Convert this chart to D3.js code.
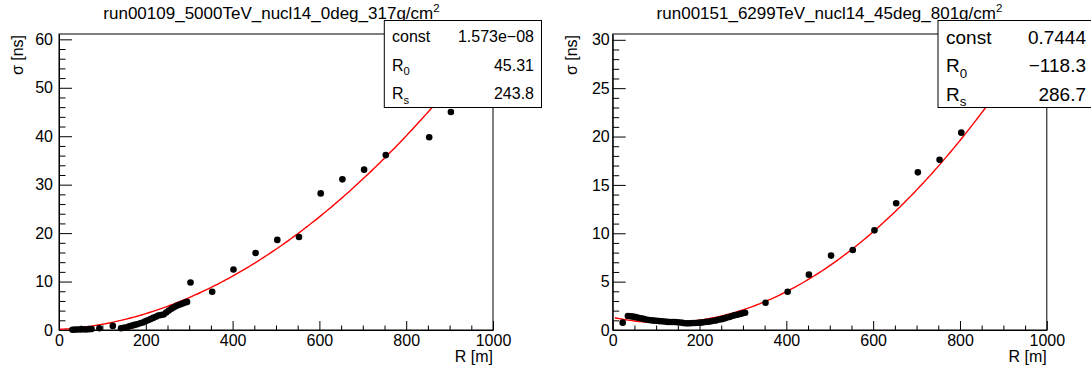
<!DOCTYPE html>
<html><head><meta charset="utf-8">
<script src="https://cdn.jsdelivr.net/npm/d3@7"></script>
<style>
body{margin:0;background:#fff}
svg{display:block}
text{font-family:"Liberation Sans",Arial,Helvetica,sans-serif;fill:#000}
</style>
</head><body>
<svg id="c" width="1091" height="377"></svg>
<script>
// ---------------- data ----------------
const titles = ["run00109_5000TeV_nucl14_0deg_317g/cm", "run00151_6299TeV_nucl14_45deg_801g/cm"];
const titleSup = "2";
const xLabel = "R [m]";
const yLabel = "\u03c3 [ns]";
const xMajorTicks = [0, 200, 400, 600, 800, 1000];
const leftYTicks = [0, 10, 20, 30, 40, 50, 60];
const rightYTicks = [0, 5, 10, 15, 20, 25, 30];

const leftR = [31, 37, 43, 50, 56, 62, 69, 75, 93, 124,
  143, 149, 156, 162, 168, 174, 180, 187, 193, 199, 205, 211, 217, 223, 229, 235, 241, 247,
  253, 259, 265, 271, 277, 283, 289, 295,
  303, 353, 402, 453, 503, 553, 603, 653, 703, 753, 853, 903];
const leftSigma = [0.05, 0.08, 0.1, 0.12, 0.15, 0.1, 0.18, 0.2, 0.35, 0.85,
  0.35, 0.45, 0.55, 0.75, 0.9, 1.05, 1.2, 1.4, 1.55, 1.8, 2.0, 2.25, 2.5, 2.75, 3.0, 3.1, 3.2, 3.6,
  4.0, 4.4, 4.7, 5.0, 5.2, 5.4, 5.6, 5.8,
  9.8, 7.9, 12.5, 15.9, 18.6, 19.2, 28.2, 31.1, 33.1, 36.1, 39.8, 45.0];

const rightR = [23, 35, 41, 47, 53, 59, 65, 71, 77, 83, 89, 95, 101, 107, 113, 119, 125, 131, 137,
  143, 149, 155, 161, 167, 173, 179, 185, 191, 197, 203, 209, 215, 221, 227, 233, 239, 245,
  251, 257, 263, 269, 275, 281, 287, 293, 299, 305,
  352, 403, 452, 503, 553, 603, 653, 703, 753, 803];
const rightSigma = [0.76, 1.45, 1.42, 1.38, 1.33, 1.27, 1.21, 1.15, 1.08, 1.03, 1.0, 0.97, 0.95, 0.92, 0.9, 0.88, 0.84, 0.83, 0.83,
  0.82, 0.8, 0.77, 0.74, 0.7, 0.69, 0.7, 0.72, 0.73, 0.75, 0.76, 0.8, 0.84, 0.86, 0.9, 0.95, 1.0, 1.08,
  1.12, 1.2, 1.28, 1.35, 1.45, 1.52, 1.58, 1.65, 1.72, 1.79,
  2.82, 3.96, 5.72, 7.69, 8.27, 10.3, 13.1, 16.3, 17.6, 20.4];

const statNames = ["const", "R", "R"];
const statSubs = ["", "0", "s"];
const leftStats = ["1.573e\u221208", "45.31", "243.8"];
const rightStats = ["0.7444", "\u2212118.3", "286.7"];
const leftPar = [1.573e-08, 45.31, 243.8];
const rightPar = [0.7444, -118.3, 286.7];
const fitRangeLeft = [0, 1000];
const fitRangeRight = [5, 1000];

// fit model: sigma = const + ((R + R0)/Rs)^2 / c, c = 0.3 m/ns
function fitModel(p, R) { return p[0] + Math.pow((R + p[1]) / p[2], 2) / 0.3; }

// ---------------- drawing ----------------
const svg = d3.select("#c");
const FONT = '"Liberation Sans",Arial,Helvetica,sans-serif';

const panels = [
  { title: titles[0], R: leftR, S: leftSigma, yTicks: leftYTicks, yMax: 61.1, yMinorStep: 2,
    par: leftPar, stats: leftStats, fitRange: fitRangeLeft,
    fx0: 59, fx1: 493, fy0: 34, fy1: 330, titleX: 271.5, yLabX: 23, yTickPad: 6,
    box: { x: 384.3, y: 20.5, w: 157.2, h: 87, fs: 16, lx: 392, vx: 534, rows: [42, 70.5, 99] } },
  { title: titles[1], R: rightR, S: rightSigma, yTicks: rightYTicks, yMax: 30.6, yMinorStep: 1,
    par: rightPar, stats: rightStats, fitRange: fitRangeRight,
    fx0: 612.7, fx1: 1046.8, fy0: 34, fy1: 330, titleX: 829.5, yLabX: 577, yTickPad: 3,
    box: { x: 938, y: 20.5, w: 160, h: 87, fs: 19, lx: 946, vx: 1086, rows: [43.5, 72, 100.5] } }
];

panels.forEach((P, i) => {
  const g = svg.append("g");
  const x = d3.scaleLinear().domain([0, 1000]).range([P.fx0, P.fx1]);
  const y = d3.scaleLinear().domain([0, P.yMax]).range([P.fy1, P.fy0]);

  // frame
  g.append("rect").attr("x", P.fx0).attr("y", P.fy0)
    .attr("width", P.fx1 - P.fx0).attr("height", P.fy1 - P.fy0)
    .attr("fill", "none").attr("stroke", "#000").attr("stroke-width", 1);

  // clip
  const clipId = "clip" + i;
  svg.append("clipPath").attr("id", clipId).append("rect")
    .attr("x", P.fx0).attr("y", P.fy0).attr("width", P.fx1 - P.fx0).attr("height", P.fy1 - P.fy0);

  // fit curve
  const n = 200;
  const pts = d3.range(n + 1).map(k => {
    const R = P.fitRange[0] + (P.fitRange[1] - P.fitRange[0]) * k / n;
    return [R, fitModel(P.par, R)];
  });
  g.append("path").datum(pts)
    .attr("clip-path", `url(#${clipId})`)
    .attr("fill", "none").attr("stroke", "#ff0000").attr("stroke-width", 1.4)
    .attr("d", d3.line().x(d => x(d[0])).y(d => y(d[1])));

  // points
  g.append("g").selectAll("circle").data(P.R.map((r, k) => [r, P.S[k]])).join("circle")
    .attr("cx", d => x(d[0])).attr("cy", d => y(d[1])).attr("r", 3.3).attr("fill", "#000");

  // x axis
  const xMinor = d3.range(0, 1001, 50).filter(v => v % 200 !== 0);
  const xa = g.append("g").attr("transform", `translate(0,${P.fy1})`)
    .call(d3.axisBottom(x).tickValues(xMajorTicks).tickSizeInner(-9).tickSizeOuter(0).tickPadding(5).tickFormat(d3.format("d")));
  xa.select(".domain").attr("stroke", "#000");
  xa.selectAll("text").attr("font-size", 16).attr("font-family", FONT);
  g.append("g").attr("transform", `translate(0,${P.fy1})`)
    .call(d3.axisBottom(x).tickValues(xMinor).tickSizeInner(-4.5).tickSizeOuter(0).tickFormat(""))
    .select(".domain").remove();

  // y axis
  const yMinor = d3.range(0, P.yMax, P.yMinorStep).filter(v => !P.yTicks.includes(v));
  const ya = g.append("g").attr("transform", `translate(${P.fx0},0)`)
    .call(d3.axisLeft(y).tickValues(P.yTicks).tickSizeInner(-13).tickSizeOuter(0).tickPadding(P.yTickPad).tickFormat(d3.format("d")));
  ya.select(".domain").attr("stroke", "#000");
  ya.selectAll("text").attr("font-size", 16).attr("font-family", FONT);
  g.append("g").attr("transform", `translate(${P.fx0},0)`)
    .call(d3.axisLeft(y).tickValues(yMinor).tickSizeInner(-6.5).tickSizeOuter(0).tickFormat(""))
    .select(".domain").remove();

  // axis titles
  g.append("text").attr("x", P.fx1).attr("y", 362).attr("text-anchor", "end")
    .attr("font-size", 16).text(xLabel);
  g.append("text").attr("transform", `translate(${P.yLabX},${P.fy0 + 1}) rotate(-90)`)
    .attr("text-anchor", "end").attr("font-size", 16).text(yLabel);

  // title
  const t = g.append("text").attr("x", P.titleX).attr("y", 19).attr("text-anchor", "middle")
    .attr("font-size", 17);
  t.append("tspan").text(P.title);
  t.append("tspan").attr("font-size", 11.5).attr("dy", -7).text(titleSup);

  // stats box
  const B = P.box;
  g.append("rect").attr("x", B.x).attr("y", B.y).attr("width", B.w).attr("height", B.h)
    .attr("fill", "#fff").attr("stroke", "#000").attr("stroke-width", 1);
  statNames.forEach((nm, k) => {
    const tl = g.append("text").attr("x", B.lx).attr("y", B.rows[k]).attr("font-size", B.fs);
    tl.append("tspan").text(nm);
    if (statSubs[k]) tl.append("tspan").attr("font-size", B.fs * 0.7).attr("dy", B.fs * 0.3).text(statSubs[k]);
    g.append("text").attr("x", B.vx).attr("y", B.rows[k]).attr("text-anchor", "end")
      .attr("font-size", B.fs).text(P.stats[k]);
  });
});
</script>
</body></html>
